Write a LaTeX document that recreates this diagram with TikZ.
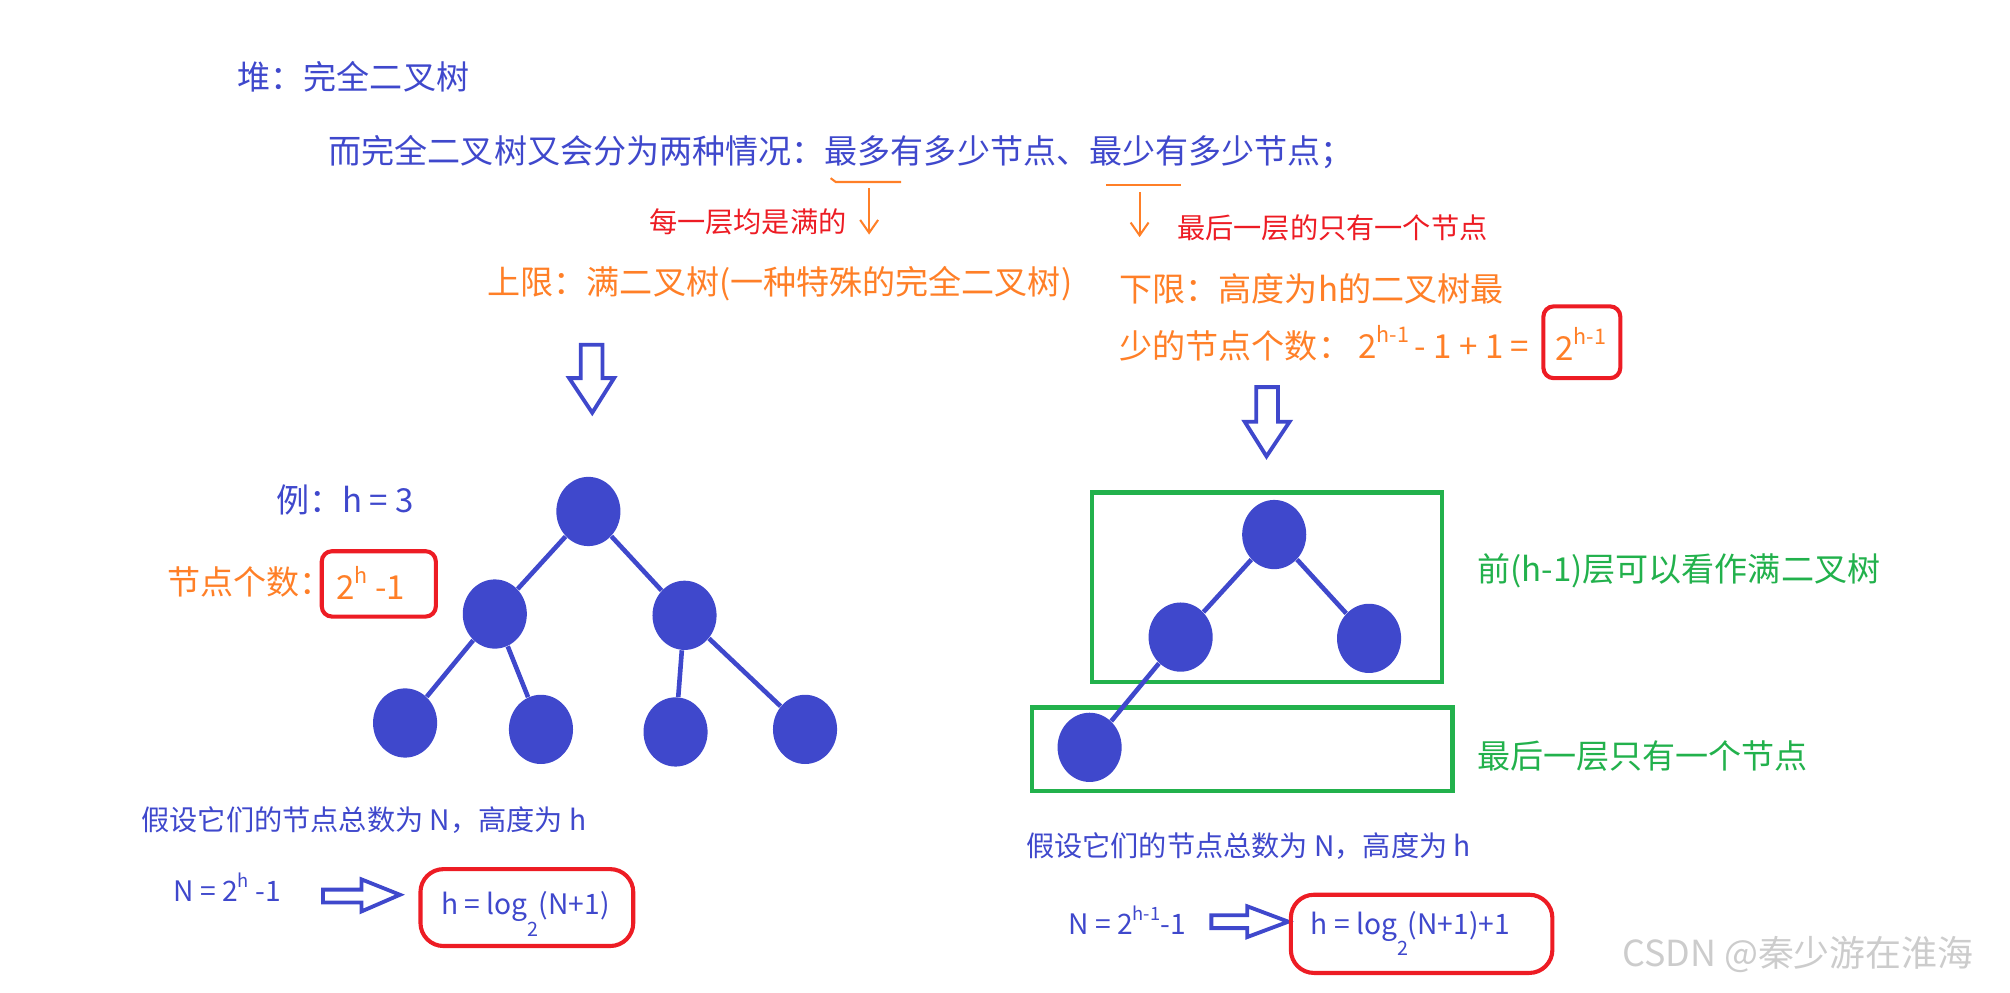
\documentclass[tikz,border=0pt]{standalone}
\usepackage{fontspec}
\setmainfont{Noto Sans CJK SC}
\usepackage{tikz}
\usetikzlibrary{shapes.geometric,arrows.meta}

\definecolor{pblue}{RGB}{63,72,204}
\definecolor{porange}{RGB}{255,127,39}
\definecolor{pred}{RGB}{237,28,36}
\definecolor{pgreen}{RGB}{34,177,76}

\newcommand{\hi}[2][0.65]{\raisebox{0.9ex}{\scalebox{#1}{#2}}}
\newcommand{\lo}[2][0.7]{\raisebox{-1.4ex}{\scalebox{#1}{#2}}}

\begin{document}
\begin{tikzpicture}[x=0.5pt,y=-0.5pt,
  txt/.style={anchor=west,inner sep=0pt,font=\fontsize{12.9}{15}\selectfont},
  small/.style={txt,font=\fontsize{11}{13}\selectfont},
  formula/.style={txt,font=\fontsize{11}{13}\selectfont},
  dot/.style={ellipse,fill=pblue,minimum width=25pt,minimum height=27pt,inner sep=0pt},
  edge/.style={pblue,line width=1.8pt},
  redbox/.style={pred,line width=1.6pt},
  greenbox/.style={pgreen,line width=1.8pt},
  hollow/.style={pblue,line width=1.5pt,line join=miter},
  thin/.style={porange,line width=0.8pt}]
\useasboundingbox (0,0) rectangle (1568,774);

\node[txt,pblue] (heap) at (185,60) {堆：完全二叉树};
\node[txt,pblue] (cases) at (256,119) {而完全二叉树又会分为两种情况：最多有多少节点、最少有多少节点；};

% upper bound
\draw[thin] (648,139) -- (652,142) -- (703,142);
\coordinate (up1) at (678,147);
\coordinate (up2) at (678,183);
\draw[thin,-{Straight Barb[length=5pt,width=7pt]}] (up1) -- (up2);
\node[small,pred] (full) at (506,173) {每一层均是满的};
\node[txt,porange] (upper) at (380,221) {上限：满二叉树(一种特殊的完全二叉树)};

% lower bound
\draw[thin] (863,144) -- (921,144);
\coordinate (lo1) at (889,150);
\coordinate (lo2) at (889,185);
\draw[thin,-{Straight Barb[length=5pt,width=7pt]}] (lo1) -- (lo2);
\node[small,pred] (last) at (918,178) {最后一层的只有一个节点};
\node[txt,porange] (lower) at (873,225) {下限：高度为h的二叉树最};
\node[txt,porange] (lowcnt) at (873,268) {少的节点个数：\ 2\hi{h-1}\,-\ 1\ +\ 1\ =};
\node[txt,porange] (lowres) at (1213,268) {2\hi{h-1}};
\draw[redbox,rounded corners=4pt] (1204,239) rectangle (1264,295);

% block arrows down
\draw[hollow] (453,269) -- (470,269) -- (470,295) -- (479,295) -- (462,322) -- (444,295) -- (453,295) -- cycle;
\draw[hollow] (980,302) -- (997,302) -- (997,329) -- (1006,329) -- (988,356) -- (971,329) -- (980,329) -- cycle;

% full tree, h = 3
\node[txt,pblue] (ex) at (215,390) {例：h = 3};
\node[txt,porange] (cnt) at (130,454) {节点个数：};
\node[txt,porange] (cntf) at (262,455) {2\hi{h} -1};
\draw[redbox,rounded corners=4pt] (251,430) rectangle (340,481);
\node[dot] (r) at (459,399) {};
\node[dot] (a) at (386,479) {};
\node[dot] (b) at (534,480) {};
\node[dot] (aa) at (316,564) {};
\node[dot] (ab) at (422,569) {};
\node[dot] (ba) at (527,571) {};
\node[dot] (bb) at (628,569) {};
\draw[edge] (r) -- (a);
\draw[edge] (r) -- (b);
\draw[edge] (a) -- (aa);
\draw[edge] (a) -- (ab);
\draw[edge] (b) -- (ba);
\draw[edge] (b) -- (bb);

\node[small,pblue] (asm) at (110,640) {假设它们的节点总数为 N，高度为 h};
\node[formula,pblue] (eq) at (135,692) {N = 2\hi{h} -1};
\draw[hollow] (252,694) -- (282,694) -- (282,686) -- (312,698) -- (282,711) -- (282,704) -- (252,704) -- cycle;
\node[formula,pblue] (logf) at (344,713) {h = log\lo{2}(N+1)};
\draw[redbox,rounded corners=9pt] (328,678) rectangle (494,738);

% lowest tree
\draw[greenbox] (852,384) rectangle (1125,532);
\draw[greenbox] (805,552) rectangle (1133,617);
\node[dot] (r2) at (994,417) {};
\node[dot] (a2) at (921,497) {};
\node[dot] (b2) at (1068,498) {};
\node[dot] (c2) at (850,583) {};
\draw[edge] (r2) -- (a2);
\draw[edge] (r2) -- (b2);
\draw[edge] (a2) -- (c2);
\node[txt,pgreen] (top) at (1152,445) {前(h-1)层可以看作满二叉树};
\node[txt,pgreen] (bottom) at (1152,590) {最后一层只有一个节点};

\node[small,pblue] (asm2) at (800,660) {假设它们的节点总数为 N，高度为 h};
\node[formula,pblue] (eq2) at (833,718) {N = 2\hi{h-1}-1};
\draw[hollow] (945,714) -- (973,714) -- (973,707) -- (1005,719) -- (973,731) -- (973,724) -- (945,724) -- cycle;
\node[formula,pblue] (logf2) at (1022,728) {h = log\lo{2}(N+1)+1};
\draw[redbox,rounded corners=9pt] (1007,698) rectangle (1211,759);

\node[txt,gray!40,font=\fontsize{14}{16}\selectfont] (wm) at (1265,745) {CSDN @秦少游在淮海};
\end{tikzpicture}
\end{document}
